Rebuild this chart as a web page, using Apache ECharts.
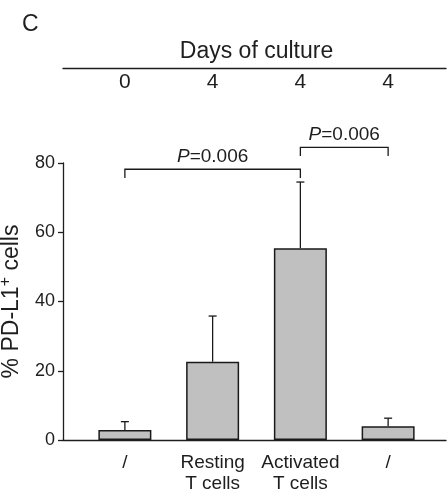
<!DOCTYPE html>
<html><head><meta charset="utf-8">
<script src="https://cdn.jsdelivr.net/npm/echarts@6/dist/echarts.min.js"></script>
<style>html,body{margin:0;padding:0;background:#fff}#c{width:447px;height:495px}</style>
</head><body><div id="c"></div>
<script>
var categories = ['/', 'Resting\nT cells', 'Activated\nT cells', '/'];
var days = ['0', '4', '4', '4'];
var means = [2.9, 22.6, 55.4, 4.0];
var errorTops = [5.3, 35.8, 74.5, 6.3];
var yTicks = [0, 20, 40, 60, 80];
// brackets: [fromIndex, toIndex, lineLevel, legBottom, label]
var brackets = [[0, 2, 78.2, 75.7, 'P=0.006'], [2, 3, 84.5, 82.0, 'P=0.006']];

var FONT = '"Liberation Sans", Arial, Helvetica, sans-serif';
var TXT = '#1e1e1e';

var chart = echarts.init(document.getElementById('c'), null, {renderer: 'canvas'});
chart.setOption({
  animation: false,
  backgroundColor: '#fff',
  title: {text: 'C', left: 17, top: 8, textStyle: {fontFamily: FONT, fontWeight: 'normal', fontSize: 23, color: TXT}},
  grid: [
    {left: 63, right: 1, top: 163, bottom: 55, containLabel: false, outerBoundsMode: 'none'},
    {left: 81, width: 351, top: 163, bottom: 55, containLabel: false, outerBoundsMode: 'none'}
  ],
  xAxis: [
    {type: 'value', gridIndex: 0, min: 0, max: 1, position: 'bottom',
     axisLine: {show: true, lineStyle: {color: '#1e1e1e', width: 1.3}}, axisTick: {show: false}, axisLabel: {show: false}, splitLine: {show: false}},
    {type: 'value', gridIndex: 0, min: 0, max: 1, position: 'top', offset: 95,
     axisLine: {show: true, lineStyle: {color: '#1e1e1e', width: 1.3}}, axisTick: {show: false}, axisLabel: {show: false}, splitLine: {show: false}},
    {type: 'category', gridIndex: 1, data: categories, position: 'bottom',
     axisLine: {show: false}, axisTick: {show: false},
     axisLabel: {margin: 12, fontFamily: FONT, fontSize: 19, color: TXT, lineHeight: 21, interval: 0}},
    {type: 'category', gridIndex: 1, data: days, position: 'top', offset: 68,
     axisLine: {show: false}, axisTick: {show: false},
     axisLabel: {margin: 2, fontFamily: FONT, fontSize: 21, color: TXT, interval: 0},
     name: 'Days of culture', nameLocation: 'middle', nameGap: 32,
     nameTextStyle: {fontFamily: FONT, fontSize: 23, color: TXT}}
  ],
  yAxis: [
    {type: 'value', gridIndex: 0, min: yTicks[0], max: yTicks[yTicks.length - 1], interval: 20,
     axisLine: {show: true, lineStyle: {color: '#1e1e1e', width: 1.3}},
     axisTick: {show: true, length: 5, lineStyle: {color: '#1e1e1e', width: 1.3}},
     axisLabel: {margin: 8, fontFamily: FONT, fontSize: 18, color: TXT},
     splitLine: {show: false},
     name: '{a|% PD-L1}{s|+}{a| cells}', nameLocation: 'middle', nameGap: 37, nameRotate: 90,
     nameTextStyle: {rich: {a: {fontFamily: FONT, fontSize: 23, color: TXT}, s: {fontFamily: FONT, fontSize: 16, color: TXT, verticalAlign: 'top', padding: [0, 0, 12, 0]}}}},
    {type: 'value', gridIndex: 1, min: 0, max: 80, show: false}
  ],
  series: [
    {type: 'bar', xAxisIndex: 2, yAxisIndex: 1, data: means, barWidth: 53,
     itemStyle: {color: '#c0c0c0', borderColor: '#1a1a1a', borderWidth: 1.5}, z: 2},
    {type: 'custom', xAxisIndex: 2, yAxisIndex: 1, z: 1,
     data: means.map(function (m, i) { return [i, m, errorTops[i]]; }),
     renderItem: function (params, api) {
       var b = api.coord([api.value(0), api.value(1)]);
       var t = api.coord([api.value(0), api.value(2)]);
       var st = {stroke: '#1a1a1a', lineWidth: 1.3};
       return {type: 'group', children: [
         {type: 'line', shape: {x1: b[0], y1: b[1], x2: t[0], y2: t[1]}, style: st},
         {type: 'line', shape: {x1: t[0] - 4, y1: t[1], x2: t[0] + 4, y2: t[1]}, style: st}
       ]};
     }},
    {type: 'custom', xAxisIndex: 2, yAxisIndex: 1, clip: false, z: 3,
     data: brackets.map(function (b) { return [b[0], b[1], b[2], b[3], b[4]]; }),
     encode: {x: [0, 1], y: [2, 3]},
     renderItem: function (params, api) {
       var a = api.coord([api.value(0), api.value(2)]);
       var c = api.coord([api.value(1), api.value(2)]);
       var leg = api.coord([api.value(0), api.value(3)]);
       var st = {stroke: '#1a1a1a', lineWidth: 1.3, fill: null};
       var label = brackets[params.dataIndex][4];
       var parts = label.split('=');
       return {type: 'group', children: [
         {type: 'polyline', shape: {points: [[a[0], leg[1]], [a[0], a[1]], [c[0], c[1]], [c[0], leg[1]]]}, style: st},
         {type: 'text', x: (a[0] + c[0]) / 2, y: a[1] - 3,
          style: {text: '{i|' + parts[0] + '}{n|=' + parts[1] + '}', align: 'center', verticalAlign: 'bottom',
                  rich: {i: {fontFamily: FONT, fontSize: 19, fontStyle: 'italic', fill: TXT},
                         n: {fontFamily: FONT, fontSize: 19, fill: TXT}}}}
       ]};
     }}
  ]
});
</script></body></html>
